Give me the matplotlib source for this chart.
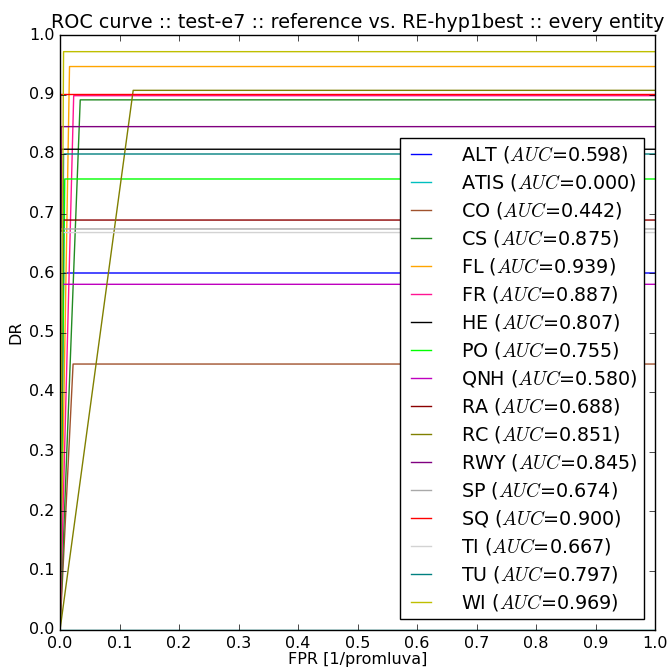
import matplotlib
matplotlib.use("Agg")
import matplotlib.pyplot as plt

plt.style.use("classic")

names = ["ALT", "ATIS", "CO", "CS", "FL", "FR", "HE", "PO", "QNH", "RA",
         "RC", "RWY", "SP", "SQ", "TI", "TU", "WI"]
auc = [0.598, 0.000, 0.442, 0.875, 0.939, 0.887, 0.807, 0.755, 0.580, 0.688,
       0.851, 0.845, 0.674, 0.900, 0.667, 0.797, 0.969]
fpr = [0.006, 0.0, 0.022, 0.034, 0.016, 0.023, 0.002, 0.008, 0.003, 0.005,
       0.123, 0.002, 0.001, 0.001, 0.002, 0.006, 0.006]
tpr = [0.600, 0.0, 0.447, 0.891, 0.947, 0.898, 0.808, 0.758, 0.581, 0.689,
       0.907, 0.846, 0.674, 0.900, 0.668, 0.800, 0.972]
colors = ["#0000ff", "#00bfbf", "#a0522d", "#228b22", "#ffa500", "#ff1493",
          "#000000", "#00ff00", "#bf00bf", "#8b0000", "#808000", "#800080",
          "#a9a9a9", "#ff0000", "#d3d3d3", "#008080", "#bfbf00"]

fig = plt.figure(figsize=(6.71, 6.70), dpi=100, facecolor="white")
ax = fig.add_axes([60/671, 40/670, 595/671, 595/670])
ax.set_facecolor("white")

for n, a, f, t, c in zip(names, auc, fpr, tpr, colors):
    ax.plot([0, f, 1], [0, t, t], color=c, lw=1.0,
            label=n + r" ($AUC$=%.3f)" % a)

ax.set_xlim(0, 1)
ax.set_ylim(0, 1)
ax.set_xticks([i/10 for i in range(11)])
ax.set_yticks([i/10 for i in range(11)])
ax.tick_params(labelsize=11.5)
ax.set_xlabel("FPR [1/promluva]", fontsize=11.5, labelpad=1)
ax.set_ylabel("DR", fontsize=11.5, labelpad=4)
ax.set_title("ROC curve :: test-e7 :: reference vs. RE-hyp1best :: every entity",
             fontsize=13.8, pad=5)
leg = ax.legend(loc="lower right", fontsize=13.8, handlelength=1.65,
                handletextpad=1.25, labelspacing=0.365, numpoints=2,
                borderpad=0.3, borderaxespad=0.6, fancybox=False, shadow=False)
leg.get_frame().set_facecolor("white")

fig.savefig("out.png", dpi=100, facecolor="white")
